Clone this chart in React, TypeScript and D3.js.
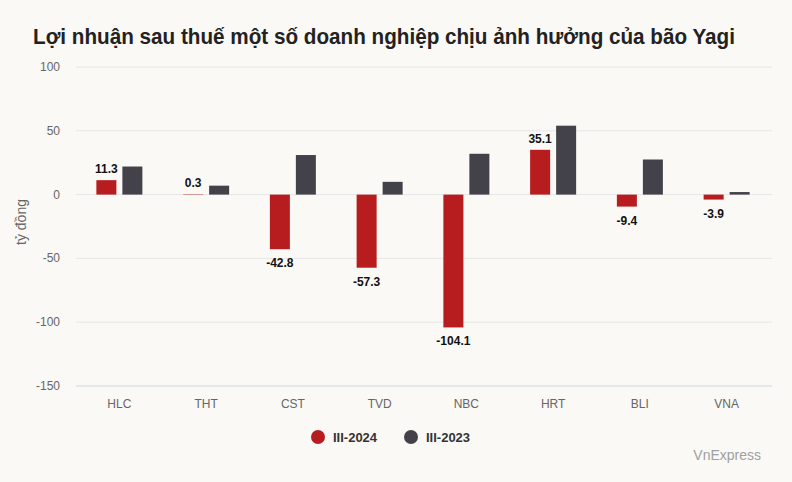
import React from "react";
import * as d3 from "d3";

const categories = ["HLC", "THT", "CST", "TVD", "NBC", "HRT", "BLI", "VNA"];
const series2024 = [11.3, 0.3, -42.8, -57.3, -104.1, 35.1, -9.4, -3.9];
const series2023 = [22, 7, 31, 10, 32, 54, 27.5, 2];
const seriesNames = ["III-2024", "III-2023"];
const yTicks = [100, 50, 0, -50, -100, -150];

const W = 792;
const H = 482;
const RED = "#b71c1f";
const GRAY = "#43424a";
const FONT = "Liberation Sans, Arial, sans-serif";

export default function App() {
  const x = d3.scaleBand<string>().domain(categories).range([76, 770]);
  const y = d3.scaleLinear().domain([-150, 100]).range([386, 67]);
  const barW = 20;
  const gap = 6;
  const y0 = y(0);

  return (
    <svg width={W} height={H} style={{ position: "absolute", left: 0, top: 0, background: "#faf9f6" }}>
      <rect x={0} y={0} width={W} height={H} fill="#faf9f6" />
      <text x={33} y={44} fontFamily={FONT} fontWeight="bold" fontSize={22} fill="#222" textLength={702} lengthAdjust="spacingAndGlyphs">
        Lợi nhuận sau thuế một số doanh nghiệp chịu ảnh hưởng của bão Yagi
      </text>
      {yTicks.map((t) => (
        <g key={t}>
          <line x1={76} x2={772} y1={y(t)} y2={y(t)} stroke={t === -150 ? "#ccd3de" : "#e6e6e6"} strokeWidth={1} />
          <text x={60} y={y(t) + 4} textAnchor="end" fontFamily={FONT} fontSize={12} fill="#666">
            {t}
          </text>
        </g>
      ))}
      <text transform={`translate(26,222) rotate(-90)`} textAnchor="middle" fontFamily={FONT} fontSize={14} fill="#666">
        tỷ đồng
      </text>
      {categories.map((c, i) => {
        const cx = (x(c) as number) + x.bandwidth() / 2;
        const v1 = series2024[i];
        const v2 = series2023[i];
        const r1x = cx - gap / 2 - barW;
        const r2x = cx + gap / 2;
        return (
          <g key={c}>
            <rect x={r1x} y={Math.min(y(v1), y0)} width={barW} height={Math.abs(y(v1) - y0)} fill={RED} />
            <rect x={r2x} y={Math.min(y(v2), y0)} width={barW} height={Math.abs(y(v2) - y0)} fill={GRAY} />
            <text
              x={r1x + barW / 2}
              y={v1 >= 0 ? y(v1) - 7 : y(v1) + 18}
              textAnchor="middle"
              fontFamily={FONT}
              fontWeight="bold"
              fontSize={12}
              fill="#111"
            >
              {v1.toFixed(1)}
            </text>
            <text x={cx} y={408} textAnchor="middle" fontFamily={FONT} fontSize={12} fill="#666">
              {c}
            </text>
          </g>
        );
      })}
      <circle cx={318} cy={437} r={7} fill={RED} />
      <text x={333} y={442} fontFamily={FONT} fontWeight="bold" fontSize={13} fill="#333">
        {seriesNames[0]}
      </text>
      <circle cx={411} cy={437} r={7} fill={GRAY} />
      <text x={426} y={442} fontFamily={FONT} fontWeight="bold" fontSize={13} fill="#333">
        {seriesNames[1]}
      </text>
      <text x={761} y={460} textAnchor="end" fontFamily={FONT} fontSize={14} fill="#a0a0a0">
        VnExpress
      </text>
    </svg>
  );
}
